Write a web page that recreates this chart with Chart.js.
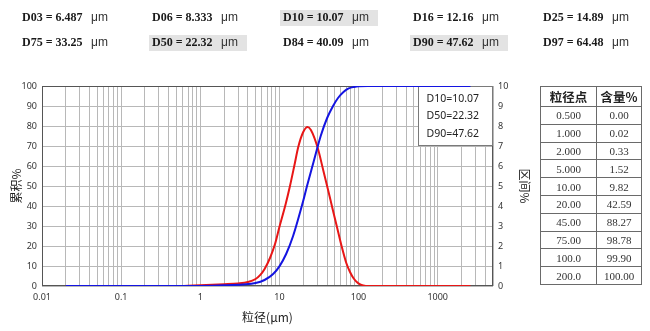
<!DOCTYPE html>
<html><head><meta charset="utf-8">
<script src="https://cdn.jsdelivr.net/npm/chart.js@4"></script>
<style>
html,body{margin:0;padding:0;background:#fff;}
#wrap{position:relative;width:650px;height:331px;overflow:hidden;background:#fff;}
#c{position:absolute;left:0;top:0;}
.item{position:absolute;width:98px;height:16px;}
.item.hl{background:#e3e3e3;}
.item .d{position:absolute;left:3px;top:0;line-height:16px;font:bold 12px "Liberation Serif";color:#1a1a1a;white-space:pre;}
.item .u{position:absolute;left:72px;top:0;line-height:16px;font:12px "Liberation Sans";color:#333;}
#tbl{position:absolute;left:540px;top:86px;border-collapse:collapse;table-layout:fixed;}
#tbl td,#tbl th{border:1px solid #6a6a6a;height:16.8px;padding:0;text-align:center;line-height:16px;overflow:hidden;white-space:nowrap;}
#tbl th{font:bold 12.5px "Noto Sans CJK SC";color:#222;}
#tbl td{font:11px "Liberation Serif";color:#333;}
</style></head>
<body>
<div id="wrap">
<canvas id="c" width="650" height="331"></canvas>
<div id="top"></div>
<table id="tbl"><colgroup><col style="width:56px"><col style="width:45px"></colgroup><tbody id="tb"></tbody></table>
</div>
<script>
// ---- data ----
const dLabels = ['D03','D06','D10','D16','D25','D75','D50','D84','D90','D97'];
const dValues = ['6.487','8.333','10.07','12.16','14.89','33.25','22.32','40.09','47.62','64.48'];
const dHighlighted = ['D10','D50','D90'];
const unitLabel = 'μm';

const tableHeader = ['粒径点','含量%'];
const tablePoints = ['0.500','1.000','2.000','5.000','10.00','20.00','45.00','75.00','100.0','200.0'];
const tableValues = ['0.00','0.02','0.33','1.52','9.82','42.59','88.27','98.78','99.90','100.00'];

const legendKeys = ['D10','D50','D90'];

// cumulative (blue, left axis)
const cumSizes  = [0.02, 0.5, 1.0, 2.0, 5.0, 6.487, 8.333, 10.0, 12.16, 14.89, 20.0, 22.32, 27.0, 33.25, 40.09, 47.62, 55.0, 64.48, 75.0, 88.0, 100.0, 130.0, 200.0, 2600];
const cumValues = [0,    0,   0.02, 0.33, 1.52, 3.0,  6.0,   9.82, 16.0,  25.0,  42.59, 50.0, 62.0, 75.0,  84.0,  90.0,  94.0, 97.0,  98.78, 99.55, 99.9,  100,   100,   100];

// differential (red, right axis)
const diffSizes  = [0.02, 0.5, 1.0, 2.0, 3.0, 4.0, 5.0, 5.7, 6.5, 7.6, 8.8, 10.0, 12.0, 13.6, 15.5, 17.3, 20.0, 22.7, 25.0, 30.5, 36.0, 41.5, 47.0, 53.0, 61.0, 70.0, 78.0, 86.0, 95.0, 105.0, 115.0, 130.0, 2600];
const diffValues = [0,    0,   0.04, 0.09, 0.13, 0.2, 0.35, 0.54, 0.85, 1.4, 2.1, 2.95, 4.1,  5.0,  6.05, 6.95, 7.7,  7.95, 7.8,  6.9,  5.75, 4.75, 3.85, 3.0,  2.0,  1.15, 0.7,  0.4,  0.2,  0.08,  0.03,  0,     0];

const xTickDecades = [0.01, 0.1, 1, 10, 100, 1000];
const xTickMultipliers = [1,2,3,4,5,6,7,8,9];
const xMin = 0.01, xMax = 5000;
const yLeftTitle = '累积%';
const yRightTitle = '区间%';
const xTitle = '粒径(μm)';

// ---- top summary ----
const colX = [22,152,283,413,543];
const rowY = [10,35];
const topEl = document.getElementById('top');
dLabels.forEach((lab,i)=>{
  const div = document.createElement('div');
  div.className = 'item' + (dHighlighted.includes(lab) ? ' hl' : '');
  div.style.left = (colX[i%5]-3)+'px';
  div.style.top = rowY[Math.floor(i/5)]+'px';
  const d = document.createElement('span'); d.className='d'; d.textContent = lab+' = '+dValues[i];
  const u = document.createElement('span'); u.className='u'; u.textContent = unitLabel;
  div.appendChild(d); div.appendChild(u);
  topEl.appendChild(div);
});

// ---- table ----
const tb = document.getElementById('tb');
{
  const tr = document.createElement('tr');
  tableHeader.forEach(h=>{const th=document.createElement('th');th.textContent=h;tr.appendChild(th);});
  tb.appendChild(tr);
}
tablePoints.forEach((p,i)=>{
  const tr = document.createElement('tr');
  [p, tableValues[i]].forEach(t=>{const td=document.createElement('td');td.textContent=t;tr.appendChild(td);});
  tb.appendChild(tr);
});

// ---- chart ----
const gridVals = [];
xTickDecades.forEach(d=>xTickMultipliers.forEach(m=>{const v=+(m*d).toPrecision(6); if(v<=xMax) gridVals.push(v);}));
if (gridVals[gridVals.length-1] !== xMax) gridVals.push(xMax);

const tickFont = {family:'"Noto Sans", sans-serif', size:9};
const titleFont = {family:'"Noto Sans CJK SC"', size:12};

const framePlugin = {
  id:'frame',
  beforeDatasetsDraw(chart){
    const {ctx, chartArea:a} = chart;
    ctx.save();
    ctx.strokeStyle = '#555'; ctx.lineWidth = 1;
    const L=Math.round(a.left)+0.5, T=Math.round(a.top)+0.5, R=Math.round(a.right)-0.5, B=Math.round(a.bottom)-0.5;
    ctx.strokeRect(L, T, R-L, B-T);
    // legend box
    const bw=75, bh=59;
    const bx=Math.round(a.right-bw)+0.5;
    ctx.fillStyle='#fff';
    ctx.fillRect(bx, T, R-bx, bh);
    ctx.strokeStyle='#7a7a7a';
    ctx.strokeRect(bx, T, R-bx, bh);
    ctx.fillStyle='#222';
    ctx.font='10.5px "Noto Sans"';
    ctx.textBaseline='middle'; ctx.textAlign='left';
    legendKeys.forEach((k,i)=>{
      const v = dValues[dLabels.indexOf(k)];
      ctx.fillText(k+'='+v, bx+8, a.top+13+i*17.5);
    });
    ctx.restore();
  }
};

new Chart(document.getElementById('c'), {
  type:'line',
  data:{
    datasets:[
      {label:'cum', data:cumSizes.map((s,i)=>({x:s,y:cumValues[i]})), yAxisID:'y', borderColor:'rgb(20,20,225)', borderWidth:2, pointRadius:0, cubicInterpolationMode:'monotone', fill:false},
      {label:'diff', data:diffSizes.map((s,i)=>({x:s,y:diffValues[i]})), yAxisID:'y1', borderColor:'rgb(232,22,22)', borderWidth:2, pointRadius:0, cubicInterpolationMode:'monotone', fill:false}
    ]
  },
  options:{
    responsive:false, animation:false, devicePixelRatio:1,
    layout:{padding:{left:0, top:86, right:110, bottom:0}},
    plugins:{legend:{display:false}, tooltip:{enabled:false}},
    scales:{
      x:{
        type:'logarithmic', min:xMin, max:xMax,
        afterBuildTicks:(s)=>{ s.ticks = gridVals.map(v=>({value:v})); },
        afterFit:(s)=>{ s.height = 45; },
        ticks:{autoSkip:false, maxRotation:0, minRotation:0, padding:6, color:'#333', font:tickFont,
          callback:(v)=> xTickDecades.includes(+(+v).toPrecision(6)) ? String(+(+v).toPrecision(6)) : ''},
        grid:{color:'#b8b8b8', lineWidth:1, drawTicks:false},
        border:{display:false},
        title:{display:true, text:xTitle, font:titleFont, color:'#222', padding:{top:0,bottom:6}}
      },
      y:{
        position:'left', min:0, max:100,
        afterFit:(s)=>{ s.width = 42; },
        ticks:{stepSize:10, padding:5, color:'#333', font:tickFont},
        grid:{color:'#b8b8b8', lineWidth:1, drawTicks:false},
        border:{display:false},
        title:{display:true, text:yLeftTitle, font:titleFont, color:'#222', padding:{top:9,bottom:0}}
      },
      y1:{
        position:'right', min:0, max:10,
        afterFit:(s)=>{ s.width = 47; },
        ticks:{stepSize:1, padding:5, color:'#333', font:tickFont},
        grid:{display:false, drawTicks:false},
        border:{display:false},
        title:{display:true, text:yRightTitle, font:titleFont, color:'#222', padding:{top:8,bottom:0}}
      }
    }
  },
  plugins:[framePlugin]
});
</script>
</body></html>
